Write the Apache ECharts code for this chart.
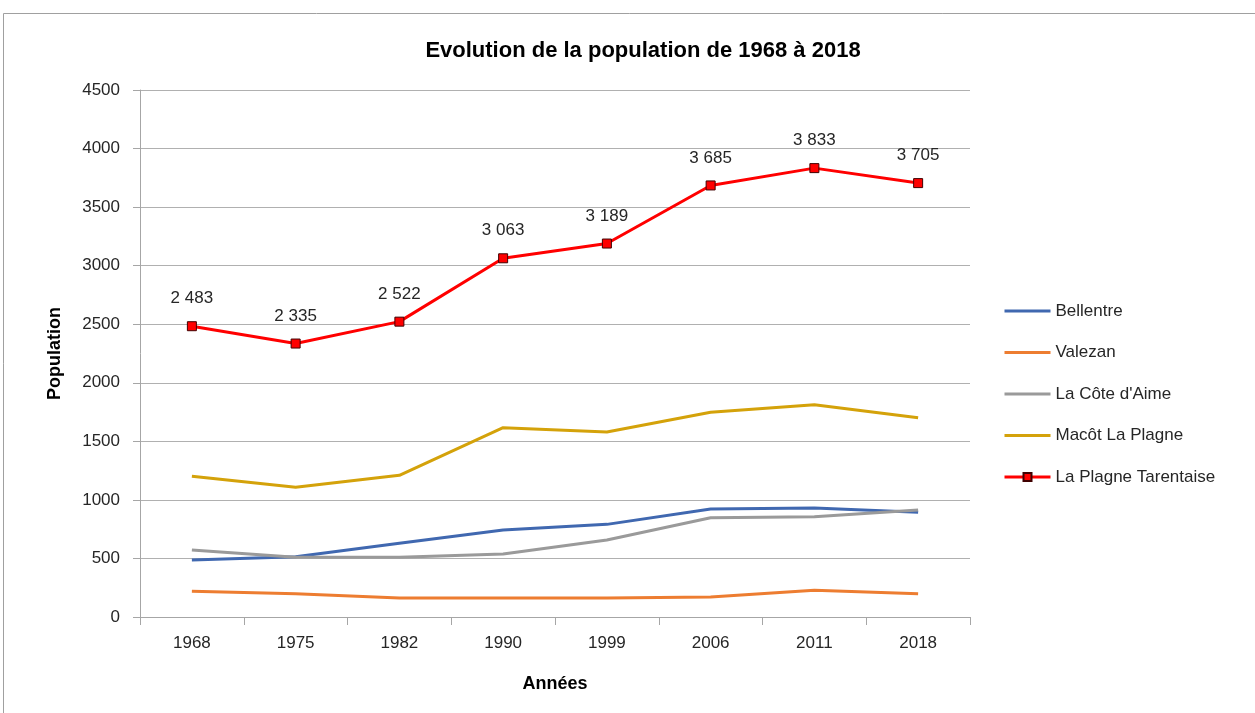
<!DOCTYPE html>
<html>
<head>
<meta charset="utf-8">
<script src="https://cdn.jsdelivr.net/npm/echarts@6/dist/echarts.min.js"></script>
<style>
  html, body { margin: 0; padding: 0; background: #fff; }
  #chart { width: 1255px; height: 713px; }
</style>
</head>
<body>
<div id="chart"></div>
<script>
// années du recensement
var annees = ['1968', '1975', '1982', '1990', '1999', '2006', '2011', '2018'];

// population par commune
var bellentre = [487, 515, 629, 743, 791, 922, 931, 894];
var valezan = [219, 199, 162, 162, 162, 171, 228, 199];
var coteAime = [572, 510, 510, 538, 658, 848, 857, 914];
var macot = [1201, 1108, 1210, 1617, 1580, 1748, 1813, 1702];
var plagneTarentaise = [2483, 2335, 2522, 3063, 3189, 3685, 3833, 3705];

var police = 'Liberation Sans, Arial, sans-serif';

function ligne(nom, data, couleur) {
    return {
        name: nom,
        type: 'line',
        data: data,
        symbol: 'none',
        lineStyle: { color: couleur, width: 3 },
        itemStyle: { color: couleur },
        z: 2
    };
}

// espace comme séparateur de milliers
function milliers(v) {
    return String(v).replace(/\B(?=(\d{3})+(?!\d))/g, ' ');
}

var myChart = echarts.init(document.getElementById('chart'));
var option = {
    backgroundColor: '#fff',
    animation: false,
    title: {
        text: 'Evolution de la population de 1968 à 2018',
        left: 638,
        textAlign: 'center',
        top: 35,
        textStyle: { fontFamily: police, fontSize: 22, fontWeight: 'bold', color: '#000' }
    },
    graphic: [{
        type: 'rect',
        shape: { x: 3.5, y: 13.5, width: 1300, height: 800 },
        style: { fill: 'none', stroke: '#a0a0a0', lineWidth: 1 }
    }],
    legend: {
        orient: 'vertical',
        left: 998,
        top: 297.5,
        itemWidth: 46,
        itemHeight: 10,
        itemGap: 24.5,
        textStyle: { fontFamily: police, fontSize: 17, color: '#262626' },
        data: [
            { name: 'Bellentre', itemStyle: { opacity: 0 }, lineStyle: { width: 3 } },
            { name: 'Valezan', itemStyle: { opacity: 0 }, lineStyle: { width: 3 } },
            { name: "La Côte d'Aime", itemStyle: { opacity: 0 }, lineStyle: { width: 3 } },
            { name: 'Macôt La Plagne', itemStyle: { opacity: 0 }, lineStyle: { width: 3 } },
            { name: 'La Plagne Tarentaise', lineStyle: { width: 3 } }
        ]
    },
    grid: { left: 140, right: 285, top: 90, bottom: 96 },
    xAxis: {
        type: 'category',
        data: annees,
        boundaryGap: true,
        name: 'Années',
        nameLocation: 'middle',
        nameGap: 58,
        nameTextStyle: { fontFamily: police, fontSize: 18, fontWeight: 'bold', color: '#000' },
        axisLine: { lineStyle: { color: '#a6a6a6' } },
        axisTick: { show: true, length: 8, lineStyle: { color: '#a6a6a6' } },
        axisLabel: { fontFamily: police, fontSize: 17, color: '#262626', margin: 18 }
    },
    yAxis: {
        type: 'value',
        min: 0,
        max: 4500,
        interval: 500,
        name: 'Population',
        nameLocation: 'middle',
        nameGap: 76,
        nameTextStyle: { fontFamily: police, fontSize: 18, fontWeight: 'bold', color: '#000' },
        axisLine: { show: true, lineStyle: { color: '#a6a6a6' } },
        axisTick: { show: true, length: 7, lineStyle: { color: '#a6a6a6' } },
        axisLabel: { fontFamily: police, fontSize: 17, color: '#262626', margin: 20, formatter: function (v) { return String(v); } },
        splitLine: { lineStyle: { color: '#b0b0b0' } }
    },
    series: [
        ligne('Bellentre', bellentre, '#4068b0'),
        ligne('Valezan', valezan, '#ed7d31'),
        ligne("La Côte d'Aime", coteAime, '#9a9a9a'),
        ligne('Macôt La Plagne', macot, '#d4a20a'),
        {
            name: 'La Plagne Tarentaise',
            type: 'line',
            data: plagneTarentaise,
            symbol: 'rect',
            symbolSize: 9,
            lineStyle: { color: '#ff0000', width: 3 },
            itemStyle: { color: '#ff0000', borderColor: '#400000', borderWidth: 1 },
            label: {
                show: true,
                position: 'top',
                distance: 14,
                fontFamily: police,
                fontSize: 17,
                color: '#262626',
                formatter: function (p) { return milliers(p.value); }
            },
            z: 3
        }
    ]
};
myChart.setOption(option);
</script>
</body>
</html>
